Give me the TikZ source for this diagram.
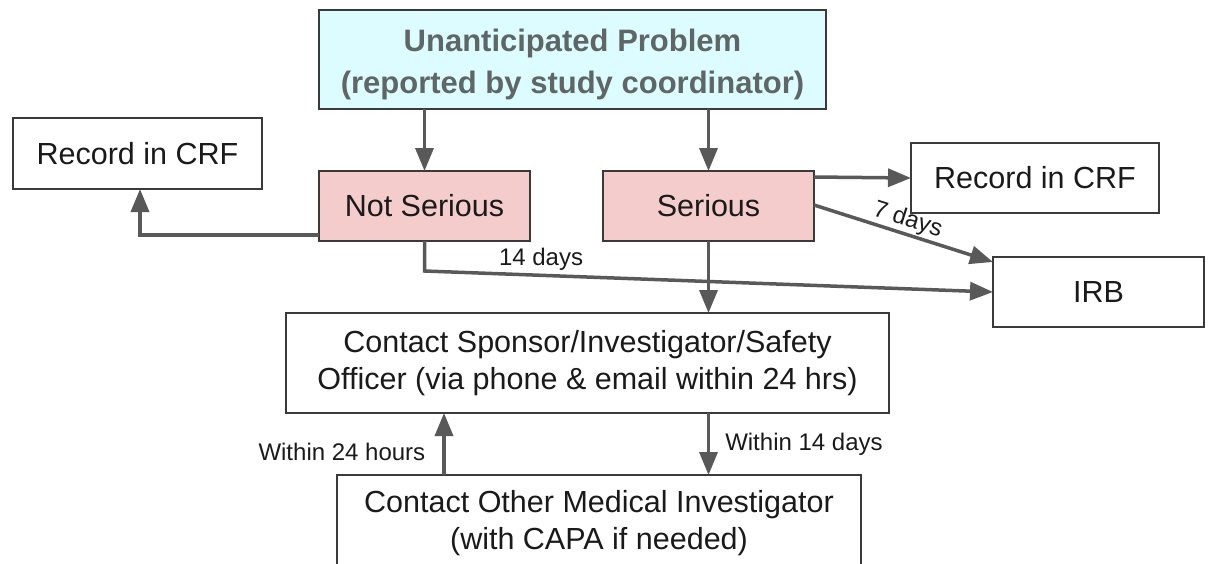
\documentclass[tikz,border=0pt]{standalone}
\usepackage{fontspec}
\setmainfont{Liberation Sans}
\usetikzlibrary{arrows.meta,calc}
\definecolor{linegray}{HTML}{595959}
\definecolor{bordergray}{HTML}{3A3A3A}
\definecolor{pinkfill}{HTML}{F4CCCC}
\definecolor{cyanfill}{HTML}{DDFCFF}
\definecolor{toptext}{HTML}{5F6666}
\definecolor{txt}{HTML}{1A1A1A}
\begin{document}
\begin{tikzpicture}[x=1pt,y=-1pt,
  box/.style={draw=bordergray, line width=1.3pt, inner sep=0pt, outer sep=0pt, align=center, text=txt, font=\fontsize{30.5}{37}\selectfont},
  arr/.style={draw=linegray, line width=3.5pt, -{Triangle[length=23pt,width=18pt]}},
  lbl/.style={inner sep=0pt, text=txt, font=\fontsize{24}{28}\selectfont}]
\clip (0,0) rectangle (1209,563);
\useasboundingbox (0,0) rectangle (1209,563);

\node[box, fill=cyanfill, text=toptext, minimum width=507pt, minimum height=99pt, font=\bfseries\fontsize{31}{42}\selectfont] (top) at (572.5,59.5) {\rule{0pt}{33pt}Unanticipated Problem\\(reported by study coordinator)};
\node[box, minimum width=249pt, minimum height=71pt] (recL) at (137.5,153.5) {Record in CRF};
\node[box, fill=pinkfill, minimum width=211pt, minimum height=70pt] (ns) at (424.5,206) {Not Serious};
\node[box, fill=pinkfill, minimum width=211pt, minimum height=70pt] (ser) at (708.5,206) {Serious};
\node[box, minimum width=248pt, minimum height=70pt] (recR) at (1035,178) {Record in CRF};
\node[box, minimum width=211pt, minimum height=70pt] (irb) at (1098.5,292) {IRB};
\node[box, minimum width=603pt, minimum height=100pt] (cs) at (587.5,363) {Contact Sponsor/Investigator/Safety\\Officer (via phone \& email within 24 hrs)};
\node[box, minimum width=524pt, minimum height=96pt] (co) at (599,523) {Contact Other Medical Investigator\\(with CAPA if needed)};

\draw[arr] (top.south -| ns.north) -- (ns.north);
\draw[arr] (top.south -| ser.north) -- (ser.north);
\draw[arr] ([yshift=6pt]ns.south west) -| ([xshift=2.5pt]recL.south);
\coordinate (c14) at ($(ns.south)+(0,30)$);
\draw[arr] (ns.south) -- (c14) -- node[lbl, pos=0.205, yshift=16.5pt] {14 days} (irb.west);
\draw[arr] ([yshift=29pt]ser.east) -- (recR.west);
\draw[arr] ([yshift=1pt]ser.east) -- node[lbl, sloped, above=1pt] {7 days} ([yshift=-5pt]irb.north west);
\draw[arr] (ser.south) -- (ser.south |- cs.north);
\draw[arr] (ser.south |- cs.south) -- node[lbl, right=15pt] {Within 14 days} (ser.south |- co.north);
\draw[arr] ([xshift=-155pt]co.north) -- node[lbl, pos=0.37, left=17pt] {Within 24 hours} ([xshift=-155pt]co.north |- cs.south);
\end{tikzpicture}
\end{document}
